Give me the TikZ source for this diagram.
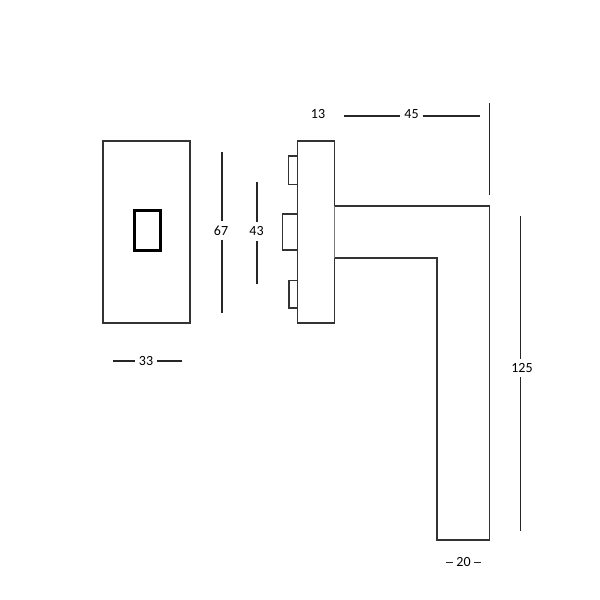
\documentclass[tikz,border=0pt]{standalone}
\usepackage{fontspec}
\setmainfont{Carlito}
\tikzset{
  part/.style={draw=black!80,line width=1.6pt,fill=white,line join=miter},
  socket/.style={draw=black,line width=3pt},
  dimline/.style={draw=black!85,line width=1.3pt},
  dimlabel/.style={font=\fontsize{14}{15}\selectfont,text=black,inner sep=0pt,minimum width=22pt,minimum height=18pt},
  shortlabel/.style={dimlabel,minimum width=20pt},
}
\begin{document}
\begin{tikzpicture}[x=1pt,y=-1pt]
\useasboundingbox (0,0) rectangle (600,600);
\fill[white] (0,0) rectangle (600,600);
% front view of the rose
\draw[part] (103,141) rectangle (190,323);
\draw[socket] (134,210) rectangle (160.5,250);
% studs, side view
\draw[part] (297.5,156) -| (288.5,184.5) -- (297.5,184.5);
\draw[part] (297.5,214) -| (282.5,250) -- (297.5,250);
\draw[part] (297.5,280.5) -| (289,308) -- (297.5,308);
% side plate
\draw[part] (297.5,141) rectangle (334.5,323);
% handle
\draw[part] (334.5,206) -- (489.3,206) -- (489.3,539.7) -- (437,539.7) -- (437,258) -- (334.5,258);
% dimension end points
\coordinate (d67a) at (222,152);
\coordinate (d67b) at (222,313);
\coordinate (d43a) at (257,181.5);
\coordinate (d43b) at (257,283.5);
\coordinate (d33a) at (113,361);
\coordinate (d33b) at (182,361);
\coordinate (d45a) at (343.5,116);
\coordinate (d45b) at (480,116);
\coordinate (d45c) at (489.5,103);
\coordinate (d45d) at (489.5,195);
\coordinate (d125a) at (520.5,216);
\coordinate (d125b) at (520.5,531);
\coordinate (d20a) at (446,562.5);
\coordinate (d20b) at (481,562.5);
% labels
\node[dimlabel] (l67) at (221,230.5) {67};
\node[dimlabel] (l43) at (256.5,231.5) {43};
\node[dimlabel] (l33) at (146,361) {33};
\node[dimlabel] (l13) at (318,114.5) {13};
\node[dimlabel] (l45) at (411.5,114.5) {45};
\node[dimlabel] (l125) at (522,368) {125};
\node[shortlabel] (l20) at (463.5,562) {20};
% dimension lines, straight up to the label
\draw[dimline] (d67a) -- (d67a |- l67.north) (d67a |- l67.south) -- (d67b);
\draw[dimline] (d43a) -- (d43a |- l43.north) (d43a |- l43.south) -- (d43b);
\draw[dimline] (d33a) -- (l33.west |- d33a) (l33.east |- d33a) -- (d33b);
\draw[dimline] (d45a) -- (l45.west |- d45a) (l45.east |- d45a) -- (d45b);
\draw[dimline] (d45c) -- (d45d);
\draw[dimline] (d125a) -- (d125a |- l125.north) (d125a |- l125.south) -- (d125b);
\draw[dimline] (d20a) -- (l20.west |- d20a) (l20.east |- d20a) -- (d20b);
\end{tikzpicture}
\end{document}
